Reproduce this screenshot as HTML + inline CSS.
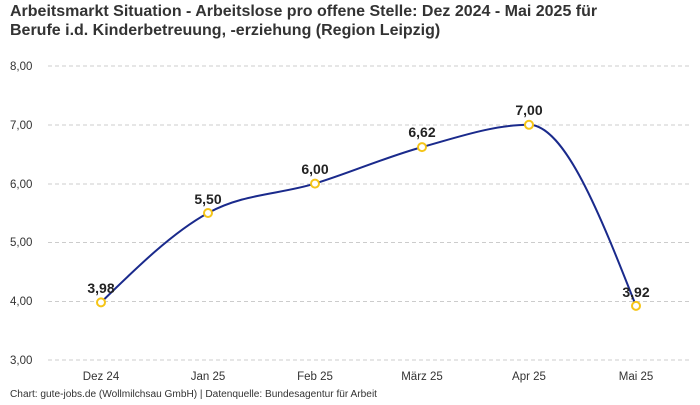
<!DOCTYPE html>
<html><head><meta charset="utf-8"><style>
html,body{margin:0;padding:0;background:#fff;}
body{width:700px;height:400px;overflow:hidden;font-family:"Liberation Sans",sans-serif;}
</style></head><body>
<svg width="700" height="400" xmlns="http://www.w3.org/2000/svg" font-family="Liberation Sans, sans-serif">
<text x="10" y="16" font-size="16" font-weight="bold" fill="#333">Arbeitsmarkt Situation - Arbeitslose pro offene Stelle: Dez 2024 - Mai 2025 für</text>
<text x="10" y="35" font-size="16" font-weight="bold" fill="#333">Berufe i.d. Kinderbetreuung, -erziehung (Region Leipzig)</text>
<g stroke="#ccc" stroke-dasharray="4,3" stroke-width="1">
<line x1="48" x2="690" y1="66" y2="66"/><line x1="48" x2="690" y1="125" y2="125"/>
<line x1="48" x2="690" y1="184" y2="184"/><line x1="48" x2="690" y1="242.5" y2="242.5"/>
<line x1="48" x2="690" y1="301.5" y2="301.5"/><line x1="48" x2="690" y1="360" y2="360"/>
</g>
<g font-size="11.5" fill="#333">
<text x="10" y="70">8,00</text><text x="10" y="129">7,00</text><text x="10" y="188">6,00</text>
<text x="10" y="246">5,00</text><text x="10" y="305">4,00</text><text x="10" y="364">3,00</text>
</g>
<g font-size="11.5" fill="#333" text-anchor="middle">
<text x="101" y="380">Dez 24</text><text x="208" y="380">Jan 25</text><text x="315" y="380">Feb 25</text>
<text x="422" y="380">März 25</text><text x="529" y="380">Apr 25</text><text x="636" y="380">Mai 25</text>
</g>
<text x="10" y="397" font-size="10" fill="#333" textLength="367" lengthAdjust="spacingAndGlyphs">Chart: gute-jobs.de (Wollmilchsau GmbH) | Datenquelle: Bundesagentur für Arbeit</text>
<path d="M101,302.4 C136.67,267.6 172.33,232.6 208,213 C243.67,193.4 279.33,194.6 315,183.6 C350.67,172.6 386.33,156.9 422,147.1 C457.67,137.3 493.33,124.8 529,124.8 C564.67,124.8 600.33,215.3 636,305.9" fill="none" stroke="#1a2a8c" stroke-width="2"/>
<g fill="#fff" stroke="#f5c518" stroke-width="2">
<circle cx="101" cy="302.4" r="4"/><circle cx="208" cy="213" r="4"/><circle cx="315" cy="183.6" r="4"/>
<circle cx="422" cy="147.1" r="4"/><circle cx="529" cy="124.8" r="4"/><circle cx="636" cy="305.9" r="4"/>
</g>
<g font-size="14" font-weight="bold" fill="#222" text-anchor="middle">
<text x="101" y="293">3,98</text><text x="208" y="204">5,50</text><text x="315" y="174">6,00</text>
<text x="422" y="137">6,62</text><text x="529" y="115">7,00</text><text x="636" y="297">3,92</text>
</g>
</svg>
</body></html>
